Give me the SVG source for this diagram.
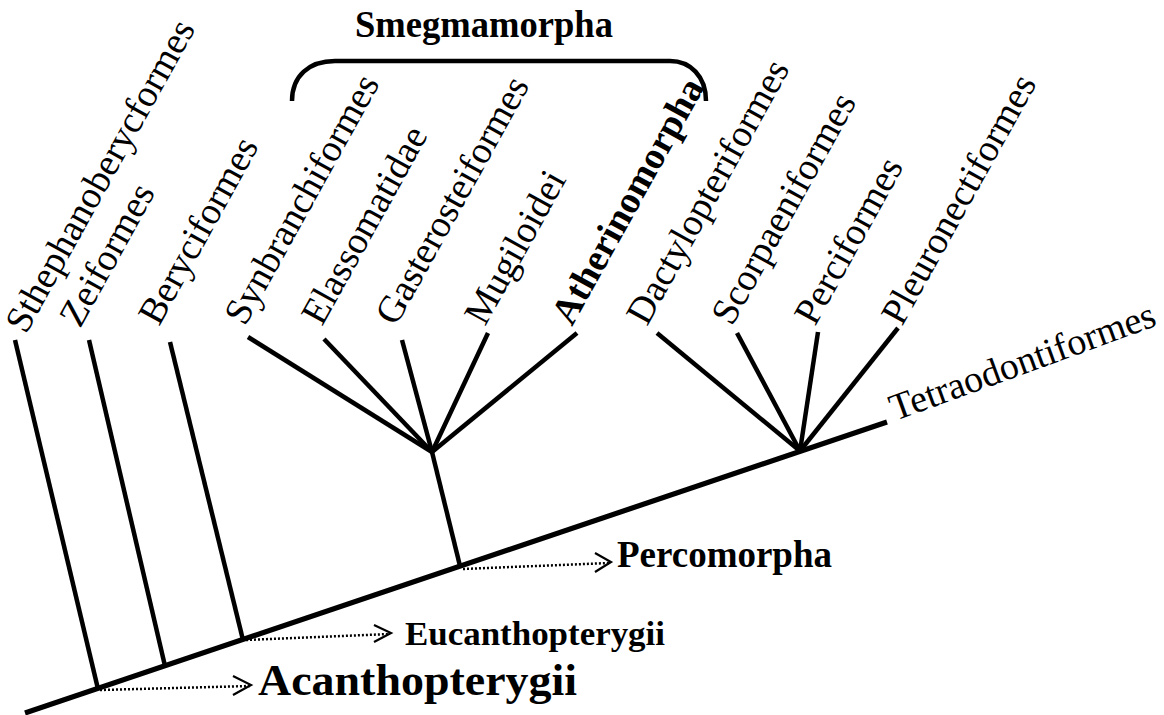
<svg xmlns="http://www.w3.org/2000/svg" width="1164" height="715" viewBox="0 0 1164 715">
<style>
.br{stroke:#000;stroke-width:4.5;fill:none;stroke-linecap:butt}
.bb{stroke:#000;stroke-width:5.2;fill:none}
.dot{stroke:#000;stroke-width:2.5;stroke-dasharray:2 2;fill:none}
.chev{stroke:#000;stroke-width:2.2;fill:none}
.lab{font-family:"Liberation Serif","Times New Roman",serif;font-size:38px;fill:#000}
.b{font-weight:bold}
</style>
<rect width="1164" height="715" fill="#fff"/>
<g id="connectors">
<line class="bb" x1="25" y1="713" x2="887" y2="422"/>
<line class="br" x1="15" y1="340" x2="98" y2="689"/>
<line class="br" x1="89" y1="340" x2="165" y2="666"/>
<line class="br" x1="170" y1="342" x2="243" y2="640"/>
<line class="br" x1="460" y1="566" x2="432" y2="452"/>
<line class="br" x1="432" y1="452" x2="248" y2="337"/>
<line class="br" x1="432" y1="452" x2="324" y2="339"/>
<line class="br" x1="432" y1="452" x2="402" y2="340"/>
<line class="br" x1="432" y1="452" x2="488" y2="333"/>
<line class="br" x1="432" y1="452" x2="577" y2="333"/>
<line class="br" x1="800" y1="451" x2="657" y2="333"/>
<line class="br" x1="800" y1="451" x2="737" y2="333"/>
<line class="br" x1="800" y1="451" x2="818" y2="332"/>
<line class="br" x1="800" y1="451" x2="898" y2="328"/>
<path class="br" d="M292,101 C292,76 309,61 335,61 L670,61 C690,61 706,76 706,101"/>
<line class="dot" x1="100" y1="690" x2="250" y2="686"/>
<polyline class="chev" points="233,676 251,685 233,695"/>
<line class="dot" x1="246" y1="640" x2="390" y2="634"/>
<polyline class="chev" points="374,625 391,633 374,642"/>
<line class="dot" x1="463" y1="569" x2="609" y2="563"/>
<polyline class="chev" points="595,553 611,562 595,572"/>
</g>
<g id="n-sthe"><text class="lab" transform="translate(26,335) rotate(-61)">Sthephanoberycformes</text></g>
<g id="n-zei"><text class="lab" transform="translate(80,329) rotate(-61)">Zeiformes</text></g>
<g id="n-bery"><text class="lab" transform="translate(159,327) rotate(-61)">Beryciformes</text></g>
<g id="n-synb"><text class="lab" transform="translate(245,327) rotate(-61)">Synbranchiformes</text></g>
<g id="n-elas"><text class="lab" transform="translate(322,327) rotate(-61)">Elassomatidae</text></g>
<g id="n-gast"><text class="lab" transform="translate(396,327) rotate(-61)">Gasterosteiformes</text></g>
<g id="n-mugi"><text class="lab" transform="translate(485,327) rotate(-61)">Mugiloidei</text></g>
<g id="n-athe"><text class="lab b" transform="translate(572,327) rotate(-61)">Atherinomorpha</text></g>
<g id="n-dact"><text class="lab" transform="translate(647,327) rotate(-61)">Dactylopteriformes</text></g>
<g id="n-scor"><text class="lab" transform="translate(732,327) rotate(-61)">Scorpaeniformes</text></g>
<g id="n-perc"><text class="lab" transform="translate(815,327) rotate(-61)">Perciformes</text></g>
<g id="n-pleu"><text class="lab" transform="translate(902,327) rotate(-61)">Pleuronectiformes</text></g>
<g id="n-tetr"><text class="lab" transform="translate(895,421) rotate(-20)">Tetraodontiformes</text></g>
<g id="n-smeg"><text class="lab b" x="355" y="37" textLength="258" lengthAdjust="spacingAndGlyphs">Smegmamorpha</text></g>
<g id="n-percomorpha"><text class="lab b" x="617" y="567" textLength="215" lengthAdjust="spacingAndGlyphs">Percomorpha</text></g>
<g id="n-eucan"><text class="lab b" x="405" y="645" style="font-size:33px" textLength="260" lengthAdjust="spacingAndGlyphs">Eucanthopterygii</text></g>
<g id="n-acan"><text class="lab b" x="258" y="695" style="font-size:44px" textLength="319" lengthAdjust="spacingAndGlyphs">Acanthopterygii</text></g>
</svg>
